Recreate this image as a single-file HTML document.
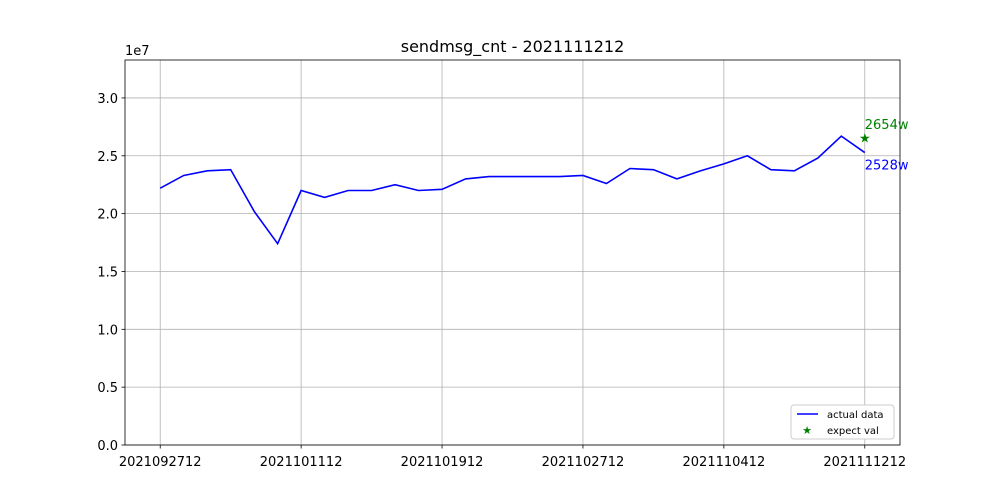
<!DOCTYPE html>
<html><head><meta charset="utf-8"><style>
body{margin:0;background:#fff;font-family:"DejaVu Sans","Liberation Sans",sans-serif;}
svg text{font-family:"DejaVu Sans","Liberation Sans",sans-serif;}
</style></head><body>
<svg id="chart" width="1000" height="500" xmlns="http://www.w3.org/2000/svg">
<rect width="1000" height="500" fill="#fff"/>
</svg>
<script>
const values=[2.22,2.33,2.37,2.38,2.02,1.74,2.20,2.14,2.20,2.20,2.25,2.20,2.21,2.30,2.32,2.32,2.32,2.32,2.33,2.26,2.39,2.38,2.30,2.37,2.43,2.50,2.38,2.37,2.48,2.67,2.528];
const expectVal=[2.654];
const xTickLabels=["2021092712","2021101112","2021101912","2021102712","2021110412","2021111212"];
const yTicks=[0,0.5,1.0,1.5,2.0,2.5,3.0];
const L=125,R=900,T=60,B=445;
const n=values.length;
const xMin=-0.05*(n-1),xMax=(n-1)*1.05;
const yMax=3.328;
const sx=i=>L+(i-xMin)/(xMax-xMin)*(R-L);
const sy=v=>B-v/yMax*(B-T);
const svg=document.getElementById('chart');
const NS="http://www.w3.org/2000/svg";
function mk(tag,attrs,txt){const e=document.createElementNS(NS,tag);for(const k in attrs)e.setAttribute(k,attrs[k]);if(txt!==undefined)e.textContent=txt;svg.appendChild(e);return e;}
// grid & ticks
xTickLabels.forEach((lab,k)=>{const x=sx(k*6);
 let g=mk('line',{x1:x,x2:x,y1:T,y2:B,stroke:'#b0b0b0','stroke-width':0.8});
 
 mk('line',{x1:x,x2:x,y1:B,y2:B+3.5,stroke:'#000','stroke-width':0.8});
 let t=mk('text',{x:x,y:B+21,'text-anchor':'middle','font-size':13},lab);
 
});
yTicks.forEach(v=>{const y=sy(v);
 let g=mk('line',{x1:L,x2:R,y1:y,y2:y,stroke:'#b0b0b0','stroke-width':0.8});
 
 mk('line',{x1:L-3.5,x2:L,y1:y,y2:y,stroke:'#000','stroke-width':0.8});
 let t=mk('text',{x:L-7,y:y+5,'text-anchor':'end','font-size':13},v.toFixed(1));
 
});
let fr=mk('rect',{x:L,y:T,width:R-L,height:B-T,fill:'none',stroke:'#000','stroke-width':0.8});

let oe=mk('text',{x:L,y:T-5,'font-size':13},'1e7');

let ti=mk('text',{x:(L+R)/2,y:T-8,'text-anchor':'middle','font-size':16},'sendmsg_cnt - 2021111212');

// line
let pl=mk('polyline',{points:values.map((v,i)=>sx(i)+','+sy(v)).join(' '),fill:'none',stroke:'#0000ff','stroke-width':1.6});

const li=n-1;
let st=mk('text',{x:sx(li),y:sy(expectVal[0])+4.5,'text-anchor':'middle','font-size':13,fill:'green'},'★');

let a1=mk('text',{x:sx(li),y:sy(expectVal[0])-9,'font-size':13,fill:'green'},Math.round(expectVal[0]*1000)+'w');

let a2=mk('text',{x:sx(li),y:sy(values[li])+17,'font-size':13,fill:'#0000ff'},Math.round(values[li]*1000)+'w');

// legend
let lg=mk('rect',{x:791,y:405,width:103,height:34,fill:'#fff',stroke:'#ccc',rx:3});

mk('line',{x1:797,x2:818,y1:414,y2:414,stroke:'#0000ff','stroke-width':1.6});
let l1=mk('text',{x:827,y:418,'font-size':10},'actual data');

mk('text',{x:807,y:434,'text-anchor':'middle','font-size':11,fill:'green'},'★');
let l2=mk('text',{x:827,y:434,'font-size':10},'expect val');

</script>
</body></html>
